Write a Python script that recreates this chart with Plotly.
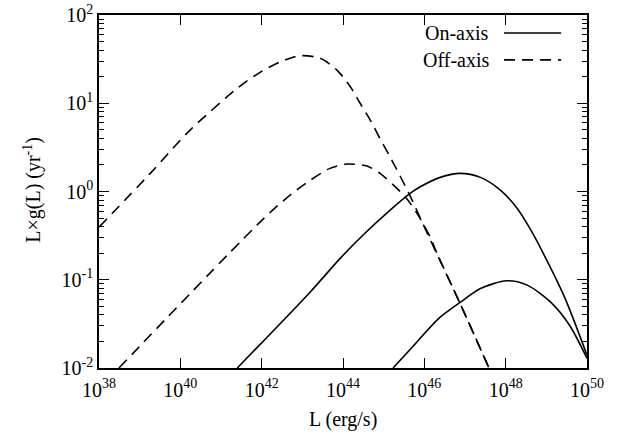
import plotly.graph_objects as go

# Data (log10 of L in erg/s, log10 of L*g(L) in yr^-1)
off_hi_logL = [38.00, 39.26, 40.24, 41.47, 41.96, 42.45, 42.95, 43.44, 43.85, 44.18, 44.42, 44.67, 44.91, 45.16, 45.41, 45.65, 45.90, 46.22, 46.88, 47.58]
off_hi_logY = [-0.404, 0.205, 0.696, 1.195, 1.350, 1.468, 1.539, 1.509, 1.376, 1.187, 1.000, 0.810, 0.600, 0.390, 0.170, -0.050, -0.300, -0.620, -1.270, -1.990]

off_lo_logL = [38.49, 42.01, 42.70, 43.19, 43.68, 44.10, 44.59, 44.91, 45.24, 45.53, 45.82, 46.14, 46.31, 46.88, 47.58]
off_lo_logY = [-2.000, -0.324, -0.040, 0.125, 0.262, 0.311, 0.288, 0.205, 0.073, -0.060, -0.248, -0.514, -0.700, -1.270, -1.990]

on_hi_logL = [41.40, 43.19, 43.93, 44.50, 45.16, 45.65, 45.90, 46.39, 46.88, 47.38, 47.87, 48.28, 48.61, 48.89, 49.45, 50.00]
on_hi_logY = [-2.000, -1.141, -0.758, -0.490, -0.211, -0.022, 0.053, 0.160, 0.205, 0.160, 0.016, -0.190, -0.430, -0.670, -1.200, -1.855]

on_lo_logL = [45.23, 45.73, 46.35, 46.88, 47.38, 48.03, 48.53, 49.10, 49.57, 50.00]
on_lo_logY = [-2.000, -1.750, -1.440, -1.257, -1.099, -1.012, -1.061, -1.251, -1.515, -1.890]

x_tick_exps = [38, 40, 42, 44, 46, 48, 50]
y_tick_exps = [-2, -1, 0, 1, 2]

legend_labels = ["On-axis", "Off-axis"]
x_title = "L (erg/s)"
y_title = "L×g(L) (yr<sup>-1</sup>)"

FONT = "Liberation Serif, Times New Roman, serif"
DASH = "11px,7px"

def tolin(v):
    return [10.0 ** float(e) for e in v]

fig = go.Figure()
series = [
    (on_hi_logL, on_hi_logY, "solid"),
    (on_lo_logL, on_lo_logY, "solid"),
    (off_hi_logL, off_hi_logY, DASH),
    (off_lo_logL, off_lo_logY, DASH),
]
for xs, ys, dash in series:
    fig.add_trace(go.Scatter(
        x=tolin(xs), y=tolin(ys), mode="lines",
        line=dict(color="black", width=1.6, dash=dash, shape="spline", smoothing=0.8),
        showlegend=False, hoverinfo="skip", cliponaxis=True,
    ))

# gnuplot-style legend: text then line sample
for i, (lab, dash) in enumerate(zip(legend_labels, ["solid", DASH])):
    yp = 0.949 - i * 0.076
    fig.add_annotation(x=0.803, y=yp, xref="paper", yref="paper", text=lab,
                       showarrow=False, xanchor="right", yanchor="middle",
                       font=dict(family=FONT, size=20, color="black"))
    fig.add_shape(type="line", xref="paper", yref="paper", x0=0.830, x1=0.947, y0=yp, y1=yp,
                  line=dict(color="black", width=1.6, dash=dash))

# axis titles
fig.add_annotation(x=0.5, y=-0.147, xref="paper", yref="paper", text=x_title,
                   showarrow=False, xanchor="center", yanchor="middle",
                   font=dict(family=FONT, size=20, color="black"))
fig.add_annotation(x=-0.138, y=0.504, xref="paper", yref="paper", text=y_title,
                   showarrow=False, xanchor="center", yanchor="middle", textangle=-90,
                   font=dict(family=FONT, size=20, color="black"))

axis_common = dict(
    type="log", showgrid=False, zeroline=False, showline=True, linecolor="black",
    linewidth=1.6, mirror="allticks", ticks="inside", tickcolor="black",
    tickwidth=1.2, ticklen=10, automargin=False, ticklabeloverflow="allow",
    tickfont=dict(family=FONT, size=20, color="black"),
)

fig.update_xaxes(
    **axis_common,
    range=[38, 50],
    tickvals=tolin(x_tick_exps),
    ticktext=[f"10<sup>{e}</sup>" for e in x_tick_exps],
    ticklabelstandoff=3,
)
fig.update_yaxes(
    **axis_common,
    range=[-2, 2],
    tickvals=tolin(y_tick_exps),
    ticktext=[f"10<sup>{e}</sup>" for e in y_tick_exps],
    minor=dict(ticks="inside", ticklen=5, tickcolor="black", tickwidth=1.0, dtick="D1", showgrid=False),
)

fig.update_layout(
    width=619, height=437,
    margin=dict(l=99, r=32, t=15, b=69),
    paper_bgcolor="white", plot_bgcolor="white",
    font=dict(family=FONT, size=20, color="black"),
)

fig.write_html(
    "out.html",
    config={"displayModeBar": False},
    post_script="document.body.style.margin='0px';document.body.style.overflow='hidden';",
)
